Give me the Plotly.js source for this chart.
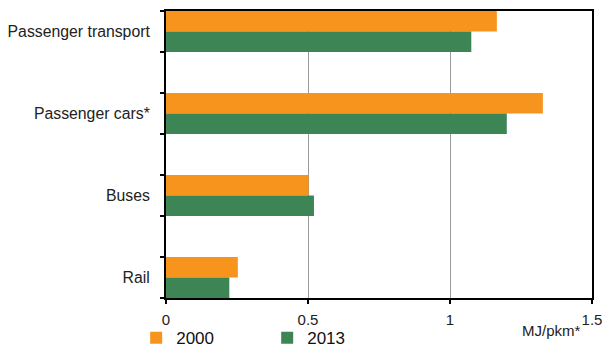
<!DOCTYPE html>
<html><head><meta charset="utf-8">
<script src="https://cdn.plot.ly/plotly-3.0.1.min.js"></script>
<style>html,body{margin:0;padding:0;background:#fff}</style>
</head><body><div id="chart" style="width:602px;height:349px"></div>
<script>
const categories = ["Passenger transport", "Passenger cars*", "Buses", "Rail"];
const values2000 = [1.165, 1.327, 0.502, 0.253];
const values2013 = [1.075, 1.200, 0.521, 0.223];
const seriesNames = ["2000", "2013"];
const xTicks = [0, 0.5, 1, 1.5];
const xTickLabels = ["0", "0.5", "1", "1.5"];
const colors = ["#F7941D", "#3D8555"];

const edgeTicks = [];
categories.forEach((c, i) => { edgeTicks.push(i - 0.25, i + 0.25); });

const traces = [
  {type:"bar", orientation:"h", y:categories, x:values2000, name:seriesNames[0],
   marker:{color:colors[0]}, hoverinfo:"none"},
  {type:"bar", orientation:"h", y:categories, x:values2013, name:seriesNames[1],
   marker:{color:colors[1]}, hoverinfo:"none"},
  {type:"scatter", mode:"none", x:[0], y:[0], yaxis:"y2", showlegend:false, hoverinfo:"none"}
];

const layout = {
  width:602, height:349,
  margin:{l:166, r:10, t:11, b:51, autoexpand:false},
  paper_bgcolor:"#fff", plot_bgcolor:"#fff",
  font:{family:"Liberation Sans, Arial, sans-serif", color:"#222", size:15},
  barmode:"group", bargap:0.5, bargroupgap:0,
  xaxis:{range:[0,1.5], tickvals:xTicks, ticktext:xTickLabels, showgrid:true,
    gridcolor:"#999", gridwidth:1, zeroline:false, showline:true, linecolor:"#000",
    linewidth:2, mirror:true, ticks:"outside", ticklen:4, tickcolor:"#000", tickwidth:2,
    tickfont:{size:15}, automargin:false, ticklabeloverflow:"allow", ticklabelstandoff:3},
  yaxis:{type:"category", categoryarray:categories, range:[3.25,-0.25], showgrid:false,
    zeroline:false, showline:true, linecolor:"#000", linewidth:2, mirror:true,
    ticks:"", ticklen:0, ticklabelstandoff:11, tickfont:{size:15.8}, automargin:false},
  yaxis2:{overlaying:"y", range:[3.25,-0.25], tickvals:edgeTicks, showticklabels:false,
    ticks:"outside", ticklen:5, tickcolor:"#000", tickwidth:2, showgrid:false,
    zeroline:false, showline:false},
  legend:{orientation:"h", x:-0.07, xanchor:"left", y:-0.14, yanchor:"middle",
    bgcolor:"rgba(0,0,0,0)",
    font:{size:17, color:"#111"}, entrywidth:86, entrywidthmode:"pixels",
    itemwidth:30, traceorder:"normal", tracegroupgap:0},
  annotations:[{xref:"paper", yref:"paper", x:0.978, xanchor:"right", y:-0.078, yanchor:"top",
    text:"MJ/pkm*", showarrow:false, font:{size:15, color:"#222"}}],
  showlegend:true
};

Plotly.newPlot("chart", traces, layout, {displayModeBar:false, staticPlot:true});
</script></body></html>
